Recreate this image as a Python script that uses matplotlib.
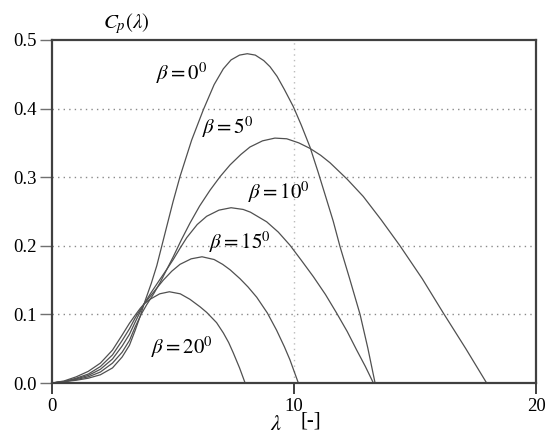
import numpy as np
import matplotlib.pyplot as plt

plt.rcParams['mathtext.fontset'] = 'stix'
plt.rcParams['font.family'] = ['Liberation Serif', 'DejaVu Serif']

# 数据（从图中读取的点）
lam_b0 = [0, 0.5, 1.0, 1.5, 2.0, 2.5, 2.9, 3.2, 3.44, 3.65, 3.84, 4.1, 4.33, 4.74, 5.0, 5.29, 5.77, 6.25, 6.7, 7.08,
          7.4, 7.75, 8.07, 8.4, 8.75, 9.01, 9.3, 9.6, 9.97, 10.3, 10.66, 11.0, 11.35, 11.62, 11.9, 12.3, 12.73, 13.05, 13.35]
cp_b0 = [0, 0.002, 0.004, 0.007, 0.012, 0.022, 0.038, 0.055, 0.077, 0.098, 0.119, 0.145, 0.171, 0.228, 0.264, 0.301,
         0.354, 0.398, 0.435, 0.458, 0.471, 0.478, 0.480, 0.478, 0.470, 0.461, 0.447, 0.428, 0.403, 0.376, 0.344, 0.307,
         0.267, 0.236, 0.199, 0.152, 0.100, 0.051, 0]

lam_b5 = [0, 0.5, 1.0, 1.5, 2.0, 2.5, 2.9, 3.2, 3.44, 3.7, 3.91, 4.2, 4.46, 5.01, 5.35, 5.70, 6.1, 6.53, 6.95, 7.36,
          7.8, 8.18, 8.7, 9.21, 9.7, 10.2, 10.66, 11.1, 11.49, 12.2, 12.86, 13.6, 14.38, 15.3, 16.17, 17.1, 17.96]
cp_b5 = [0, 0.002, 0.005, 0.009, 0.016, 0.029, 0.045, 0.062, 0.082, 0.101, 0.114, 0.130, 0.146, 0.184, 0.209, 0.233,
         0.258, 0.281, 0.301, 0.318, 0.333, 0.344, 0.353, 0.357, 0.356, 0.350, 0.342, 0.332, 0.321, 0.297, 0.272,
         0.238, 0.200, 0.152, 0.102, 0.050, 0]

lam_b10 = [0, 0.5, 1.0, 1.5, 2.0, 2.5, 2.9, 3.2, 3.44, 3.8, 4.1, 4.46, 4.75, 5.01, 5.3, 5.57, 6.0, 6.39, 6.9, 7.4,
           7.9, 8.2, 8.87, 9.35, 9.83, 10.3, 10.8, 11.3, 11.76, 12.2, 12.59, 12.95, 13.28]
cp_b10 = [0, 0.002, 0.006, 0.011, 0.020, 0.035, 0.054, 0.071, 0.089, 0.115, 0.132, 0.151, 0.166, 0.180, 0.197, 0.212,
          0.231, 0.243, 0.252, 0.2555, 0.253, 0.249, 0.235, 0.220, 0.201, 0.179, 0.155, 0.129, 0.102, 0.075, 0.048,
          0.024, 0]

lam_b15 = [0, 0.5, 1.0, 1.5, 2.0, 2.5, 2.9, 3.2, 3.44, 3.8, 4.05, 4.3, 4.6, 4.95, 5.29, 5.75, 6.2, 6.7, 7.05, 7.36,
           7.77, 8.1, 8.46, 8.9, 9.28, 9.6, 9.83, 10.18]
cp_b15 = [0, 0.002, 0.007, 0.013, 0.024, 0.041, 0.062, 0.079, 0.095, 0.115, 0.126, 0.137, 0.150, 0.163, 0.173, 0.181,
          0.184, 0.180, 0.173, 0.165, 0.152, 0.140, 0.125, 0.102, 0.077, 0.053, 0.034, 0]

lam_b20 = [0, 0.5, 1.0, 1.5, 2.0, 2.5, 2.9, 3.2, 3.44, 3.65, 3.8, 4.05, 4.45, 4.85, 5.3, 5.7, 6.12, 6.39, 6.8, 7.08,
           7.3, 7.49, 7.75, 7.98]
cp_b20 = [0, 0.003, 0.009, 0.017, 0.029, 0.048, 0.070, 0.087, 0.099, 0.109, 0.115, 0.122, 0.130, 0.133, 0.130, 0.122,
          0.111, 0.103, 0.088, 0.073, 0.059, 0.044, 0.022, 0]

curves = [(lam_b0, cp_b0), (lam_b5, cp_b5), (lam_b10, cp_b10), (lam_b15, cp_b15), (lam_b20, cp_b20)]
labels = [r'$\beta = 0^0$', r'$\beta = 5^0$', r'$\beta = 10^0$', r'$\beta = 15^0$', r'$\beta = 20^0$']
label_pos = [(182, 73), (228, 127), (279, 192), (240, 242), (182, 347)]  # 像素位置

W, H = 550, 445
fig = plt.figure(figsize=(5.5, 4.45), dpi=100)
ax = fig.add_axes([52 / W, 1 - 383 / H, (536 - 52) / W, (383 - 40) / H])

# 网格线
for yv in [0.1, 0.2, 0.3, 0.4]:
    ax.axhline(yv, color='#8a8a8a', lw=1.0, ls=(0, (1, 3)), zorder=0)
ax.axvline(10, color='#bbbbbb', lw=1.0, ls=(0, (1, 3)), zorder=0)

# 曲线
for lam, cp in curves:
    ax.plot(lam, cp, color='#505050', lw=0.9)

ax.set_xlim(0, 20)
ax.set_ylim(0, 0.5)

for s in ax.spines.values():
    s.set_color('#404040')
    s.set_linewidth(1.6)

ax.set_yticks([0.0, 0.1, 0.2, 0.3, 0.4, 0.5])
ax.set_yticklabels(['0.0', '0.1', '0.2', '0.3', '0.4', '0.5'])
ax.tick_params(axis='y', direction='out', length=9, width=1.0, color='#707070',
               labelsize=13.5, pad=2)
ax.set_xticks([0, 10, 20])
ax.set_xticklabels(['0', '10', '20'])
ax.tick_params(axis='x', direction='out', length=8, width=1.4, color='#404040',
               labelsize=13.5, pad=3)
ax.get_xticklines()[2].set_color('#bbbbbb')
ax.get_xticklines()[2].set_linewidth(1.0)

# β 标签
for txt, (px, py) in zip(labels, label_pos):
    fig.text(px / W, 1 - py / H, txt, fontsize=15, ha='center', va='center')

# 坐标轴标题
fig.text(126 / W, 1 - 24 / H, r'$C_p(\lambda)$', fontsize=15, ha='center', va='center')
fig.text(276 / W, 1 - 426 / H, r'$\lambda$', fontsize=16, ha='center', va='center')
fig.text(311 / W, 1 - 421 / H, '[-]', fontsize=15, ha='center', va='center')

plt.savefig('out.png', dpi=100)
